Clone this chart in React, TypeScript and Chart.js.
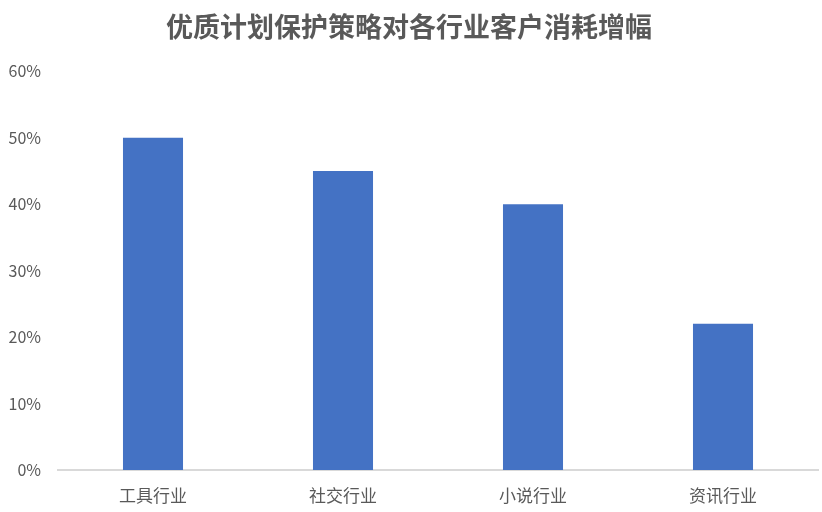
import { useEffect, useRef } from "react"
import Chart from "chart.js/auto"

const categories = ["工具行业", "社交行业", "小说行业", "资讯行业"]
const increase = [50, 45, 40, 22]
const yTicks = [0, 10, 20, 30, 40, 50, 60]

const FONT = "'Noto Sans CJK SC', 'Microsoft YaHei', sans-serif"
const GREY = "#595959"

function App() {
    const chartRef = useRef<HTMLCanvasElement>(null)

    useEffect(() => {
        document.body.style.margin = "0"
        if (!chartRef.current) return

        const chart = new Chart(chartRef.current, {
            type: "bar",
            data: {
                labels: categories,
                datasets: [
                    {
                        label: "消耗增幅",
                        data: increase,
                        backgroundColor: "#4472C4",
                        categoryPercentage: 1,
                        barPercentage: 0.316,
                    },
                ],
            },
            options: {
                animation: false,
                responsive: false,
                layout: { padding: { left: 0, right: 4, top: 0, bottom: 0 } },
                plugins: {
                    legend: { display: false },
                    tooltip: { enabled: false },
                    title: {
                        display: true,
                        text: "优质计划保护策略对各行业客户消耗增幅",
                        color: GREY,
                        font: { family: FONT, size: 27, weight: "bold" },
                        padding: { top: 11, bottom: 28 },
                    },
                },
                scales: {
                    x: {
                        grid: { display: false },
                        border: { display: true, color: "#d9d9d9", width: 2 },
                        ticks: {
                            color: GREY,
                            font: { family: FONT, size: 17 },
                            padding: 7,
                        },
                        afterFit: (s) => {
                            s.height = 42
                        },
                    },
                    y: {
                        min: 0,
                        max: 60,
                        grid: { display: false },
                        border: { display: false },
                        afterBuildTicks: (s) => {
                            s.ticks = yTicks.map((v) => ({ value: v }))
                        },
                        ticks: {
                            color: GREY,
                            font: { family: FONT, size: 16 },
                            padding: 9,
                            callback: (v) => v + "%",
                        },
                        afterFit: (s) => {
                            s.width = 58
                        },
                    },
                },
            },
        })

        return () => {
            chart.destroy()
        }
    }, [])

    return (
        <div style={{ width: 822, height: 512, background: "#fff" }}>
            <canvas ref={chartRef} width={822} height={512}></canvas>
        </div>
    )
}

export default App
